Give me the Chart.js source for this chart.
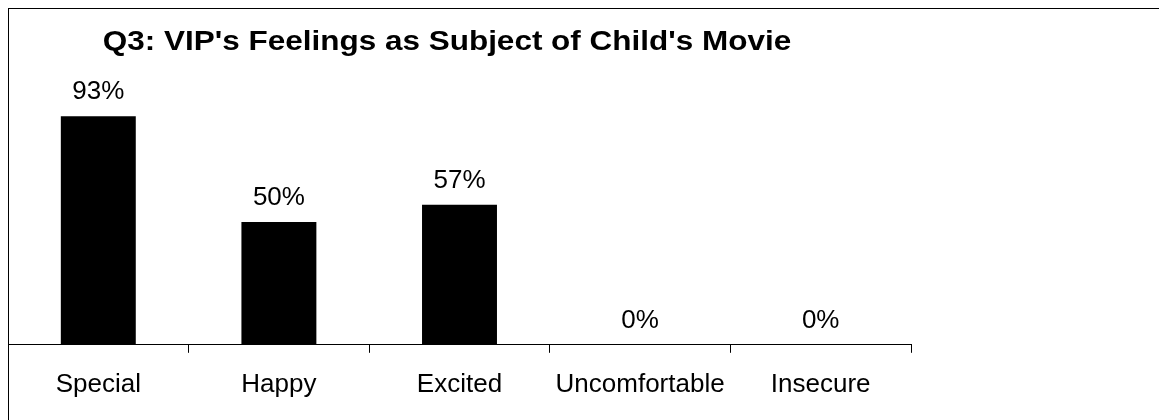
<!DOCTYPE html>
<html>
<head>
<meta charset="utf-8">
<script src="https://cdn.jsdelivr.net/npm/chart.js@4/dist/chart.umd.min.js"></script>
<style>
  html, body { margin: 0; padding: 0; background: #fff; }
  #wrap { position: relative; width: 1159px; height: 420px; }
</style>
</head>
<body>
<div id="wrap"><canvas id="bar-chart"></canvas></div>
<script>
// data
const titleText = "Q3: VIP's Feelings as Subject of Child's Movie";
const feelings = ["Special", "Happy", "Excited", "Uncomfortable", "Insecure"];
const percents = [93, 50, 57, 0, 0];
const fontFam = '"Liberation Sans", Arial, sans-serif';

// frame, title and % labels over the bars
const extras = {
  id: 'extras',
  afterDraw(chart) {
    const ctx = chart.ctx;
    ctx.save();
    ctx.fillStyle = '#000';
    ctx.fillRect(8, 8, chart.width - 8, 1);
    ctx.fillRect(8, 8, 1, chart.height - 8);

    // the title in the original is drawn a bit wider than normal
    ctx.save();
    ctx.translate(447, 42);
    ctx.scale(1.124, 1);
    ctx.font = 'bold 28px ' + fontFam;
    ctx.textAlign = 'center';
    ctx.textBaseline = 'middle';
    ctx.fillText(titleText, 0, 0);
    ctx.restore();

    ctx.font = '26px ' + fontFam;
    ctx.textAlign = 'center';
    ctx.textBaseline = 'middle';
    const meta = chart.getDatasetMeta(0);
    meta.data.forEach((bar, i) => {
      ctx.fillText(percents[i] + '%', bar.x, bar.y - 24);
    });
    ctx.restore();
  }
};

new Chart(document.getElementById('bar-chart'), {
  type: 'bar',
  data: {
    labels: feelings,
    datasets: [{
      data: percents,
      backgroundColor: '#000',
      borderWidth: 0,
      categoryPercentage: 1,
      barPercentage: 0.415
    }]
  },
  options: {
    responsive: true,
    maintainAspectRatio: false,
    animation: false,
    layout: { padding: { left: 8, right: 248, top: 99, bottom: 4 } },
    plugins: {
      legend: { display: false },
      title: { display: false },
      tooltip: { enabled: false }
    },
    scales: {
      x: {
        grid: { offset: true, drawOnChartArea: false, tickLength: 8, color: '#000', lineWidth: 1 },
        border: { display: true, color: '#000', width: 1 },
        ticks: { color: '#000', padding: 16, font: { family: fontFam, size: 26 }, maxRotation: 0, autoSkip: false }
      },
      y: { display: false, min: 0, max: 100 }
    }
  },
  plugins: [extras]
});
</script>
</body>
</html>
